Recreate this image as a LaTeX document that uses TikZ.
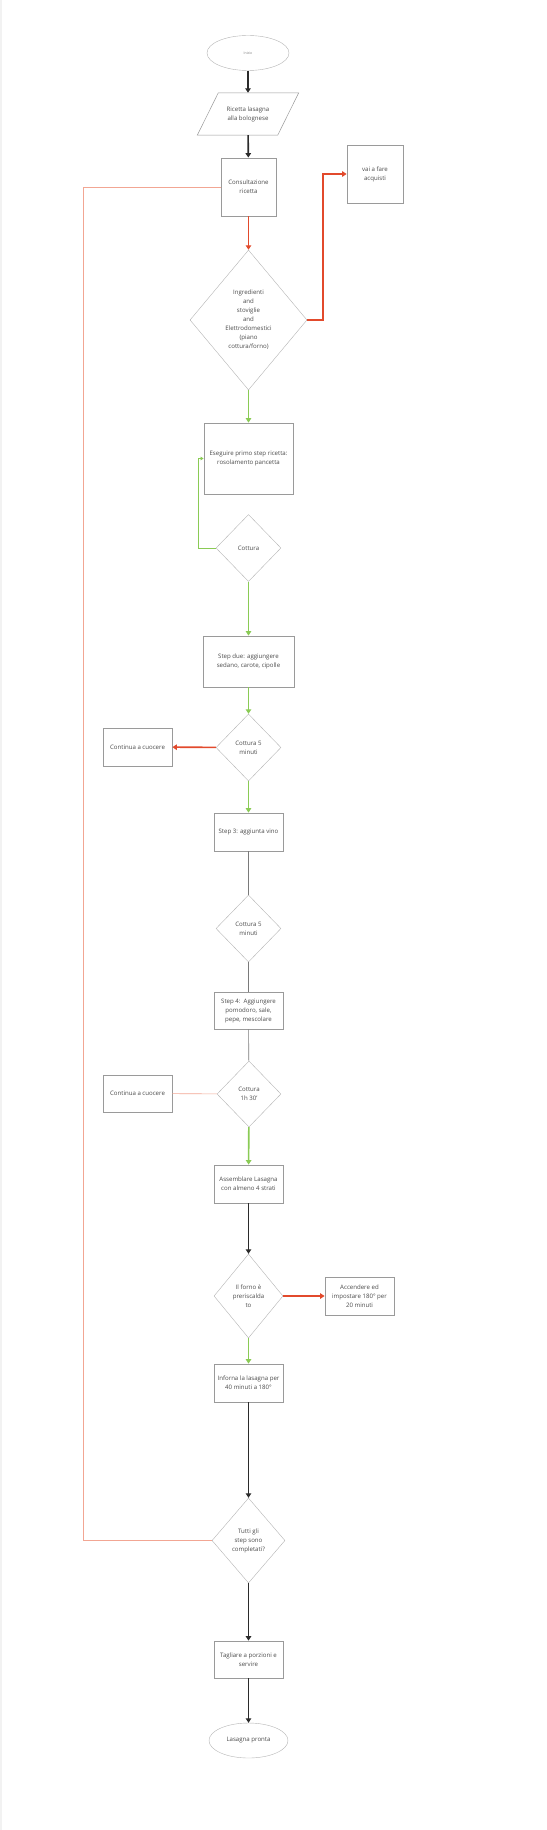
\documentclass[tikz,border=0pt]{standalone}
\usepackage{fontspec}
\setmainfont{Open Sans}
\usetikzlibrary{shapes.geometric,arrows.meta}
\definecolor{testo}{HTML}{4A4A4A}
\definecolor{bordo}{HTML}{9A9A9A}
\definecolor{bordorombo}{HTML}{B4B4B4}
\definecolor{scuro}{HTML}{2B2B2B}
\definecolor{rosso}{HTML}{E24A2C}
\definecolor{verde}{HTML}{8ACB55}
\definecolor{salmone}{HTML}{F2A693}
\definecolor{grigio}{HTML}{7A7A7A}
\begin{document}
\begin{tikzpicture}[x=1pt, y=-1pt,
        font=\fontsize{6.1}{9}\selectfont,
        box/.style={draw=bordo, line width=0.8pt, fill=white, text=testo, align=center, inner sep=1pt},
        rombo/.style={diamond, draw=bordorombo, line width=0.4pt, fill=white, text=testo, align=center, inner sep=0pt},
        ovale/.style={ellipse, draw=bordorombo, line width=0.4pt, fill=white, text=testo, inner sep=0pt},
        freccia/.style={line width=1.6pt, -{Triangle[length=4.5pt,width=5.5pt]}},
        nera/.style={freccia, draw=scuro},
        rossa/.style={freccia, draw=rosso},
        verdea/.style={freccia, draw=verde},
        semplice/.style={line width=0.6pt, draw=grigio},
        ritorno/.style={line width=0.6pt, draw=salmone}]
    \useasboundingbox (0,0) rectangle (546,1830);
    \draw[gray!10, line width=1.5pt] (0.75,0) -- (0.75,1830);

    % Nodi del diagramma
    \node[ovale, minimum width=82pt, minimum height=35pt, font=\fontsize{3.5}{4}\selectfont, text=gray] (inizio) at (248,53) {Inizio};
    \node[text=testo, align=center, inner sep=0pt, minimum width=80pt, minimum height=42pt] (ricetta) at (248,114) {Ricetta lasagna\\alla bolognese};
    \draw[bordo, line width=0.5pt] ([xshift=-10.5pt]ricetta.south west) -- ([xshift=-10.5pt]ricetta.south east)
        -- ([xshift=10.5pt]ricetta.north east) -- ([xshift=10.5pt]ricetta.north west) -- cycle;
    \node[box, minimum width=55pt, minimum height=58pt] (consult) at (248.5,187) {Consultazione\\ricetta};
    \node[box, minimum width=56pt, minimum height=58pt] (acquisti) at (375,174) {vai a fare\\acquisti};
    \node[rombo, minimum width=117pt, minimum height=140pt] (ingred) at (248.5,320) {Ingredienti\\and\\stoviglie\\and\\Elettrodomestici\\(piano\\cottura/forno)};
    \node[box, minimum width=89pt, minimum height=71pt] (eseguire) at (248.5,458.5) {Eseguire primo step ricetta:\\rosolamento pancetta};
    \node[rombo, minimum width=65pt, minimum height=67pt] (cottura1) at (248.5,548) {Cottura};
    \node[box, minimum width=91pt, minimum height=51pt] (stepdue) at (248.5,661.5) {Step due: aggiungere\\sedano, carote, cipolle};
    \node[rombo, minimum width=65pt, minimum height=67pt] (cottura2) at (248.5,747.5) {Cottura 5\\minuti};
    \node[box, minimum width=69pt, minimum height=38pt] (continua1) at (137.5,747) {Continua a cuocere};
    \node[box, minimum width=69pt, minimum height=38pt] (steptre) at (248.5,832) {Step 3: aggiunta vino};
    \node[rombo, minimum width=65pt, minimum height=67pt] (cottura3) at (248.5,928.5) {Cottura 5\\minuti};
    \node[box, minimum width=69pt, minimum height=37pt] (stepquattro) at (248.5,1010.5) {Step 4:\ \ Aggiungere\\pomodoro, sale,\\pepe, mescolare};
    \node[rombo, minimum width=64pt, minimum height=66pt] (cottura4) at (249,1094) {Cottura\\1h 30'};
    \node[box, minimum width=69pt, minimum height=37pt] (continua2) at (137.5,1093.5) {Continua a cuocere};
    \node[box, minimum width=69pt, minimum height=38pt] (assemblare) at (248.5,1184) {Assemblare Lasagna\\con almeno 4 strati};
    \node[rombo, minimum width=69pt, minimum height=84pt] (forno) at (248.5,1296) {Il forno è\\preriscalda\\to};
    \node[box, minimum width=69pt, minimum height=38pt] (accendere) at (359.5,1296) {Accendere ed\\impostare 180° per\\20 minuti};
    \node[box, minimum width=69pt, minimum height=38pt] (inforna) at (248.5,1383) {Inforna la lasagna per\\40 minuti a 180°};
    \node[rombo, minimum width=73pt, minimum height=85pt] (tutti) at (248.5,1540.5) {Tutti gli\\step sono\\completati?};
    \node[box, minimum width=69pt, minimum height=37pt] (tagliare) at (248.5,1659.5) {Tagliare a porzioni e\\servire};
    \node[ovale, minimum width=79pt, minimum height=35pt] (pronta) at (248.5,1740.5) {Lasagna pronta};
    \coordinate (giro) at (83,1540.5);

    % Collegamenti
    \draw[nera] (inizio) -- (ricetta);
    \draw[nera] (ricetta) -- (consult);
    \draw[rossa] (consult) -- (ingred);
    \draw[rossa] (ingred.east) -- ++(16,0) |- (acquisti.west);
    \draw[verdea] (ingred) -- (eseguire);
    \draw[verde, line width=0.9pt, -{Triangle[length=3pt,width=3.5pt]}] (cottura1.west) -- ++(-17,0) |- (eseguire.west);
    \draw[verdea] (cottura1) -- (stepdue);
    \draw[verdea] (stepdue) -- (cottura2);
    \draw[rossa] (cottura2) -- (continua1);
    \draw[verdea] (cottura2) -- (steptre);
    \draw[semplice] (steptre) -- (cottura3);
    \draw[semplice] (cottura3) -- (stepquattro);
    \draw[semplice] (stepquattro) -- (cottura4);
    \draw[ritorno] (cottura4) -- (continua2);
    \draw[verdea] (cottura4) -- (assemblare);
    \draw[nera] (assemblare) -- (forno);
    \draw[rossa] (forno) -- (accendere);
    \draw[verdea] (forno) -- (inforna);
    \draw[nera] (inforna) -- (tutti);
    \draw[ritorno] (tutti.west) -- (giro) |- (consult.west);
    \draw[nera] (tutti) -- (tagliare);
    \draw[nera] (tagliare) -- (pronta);
\end{tikzpicture}
\end{document}
